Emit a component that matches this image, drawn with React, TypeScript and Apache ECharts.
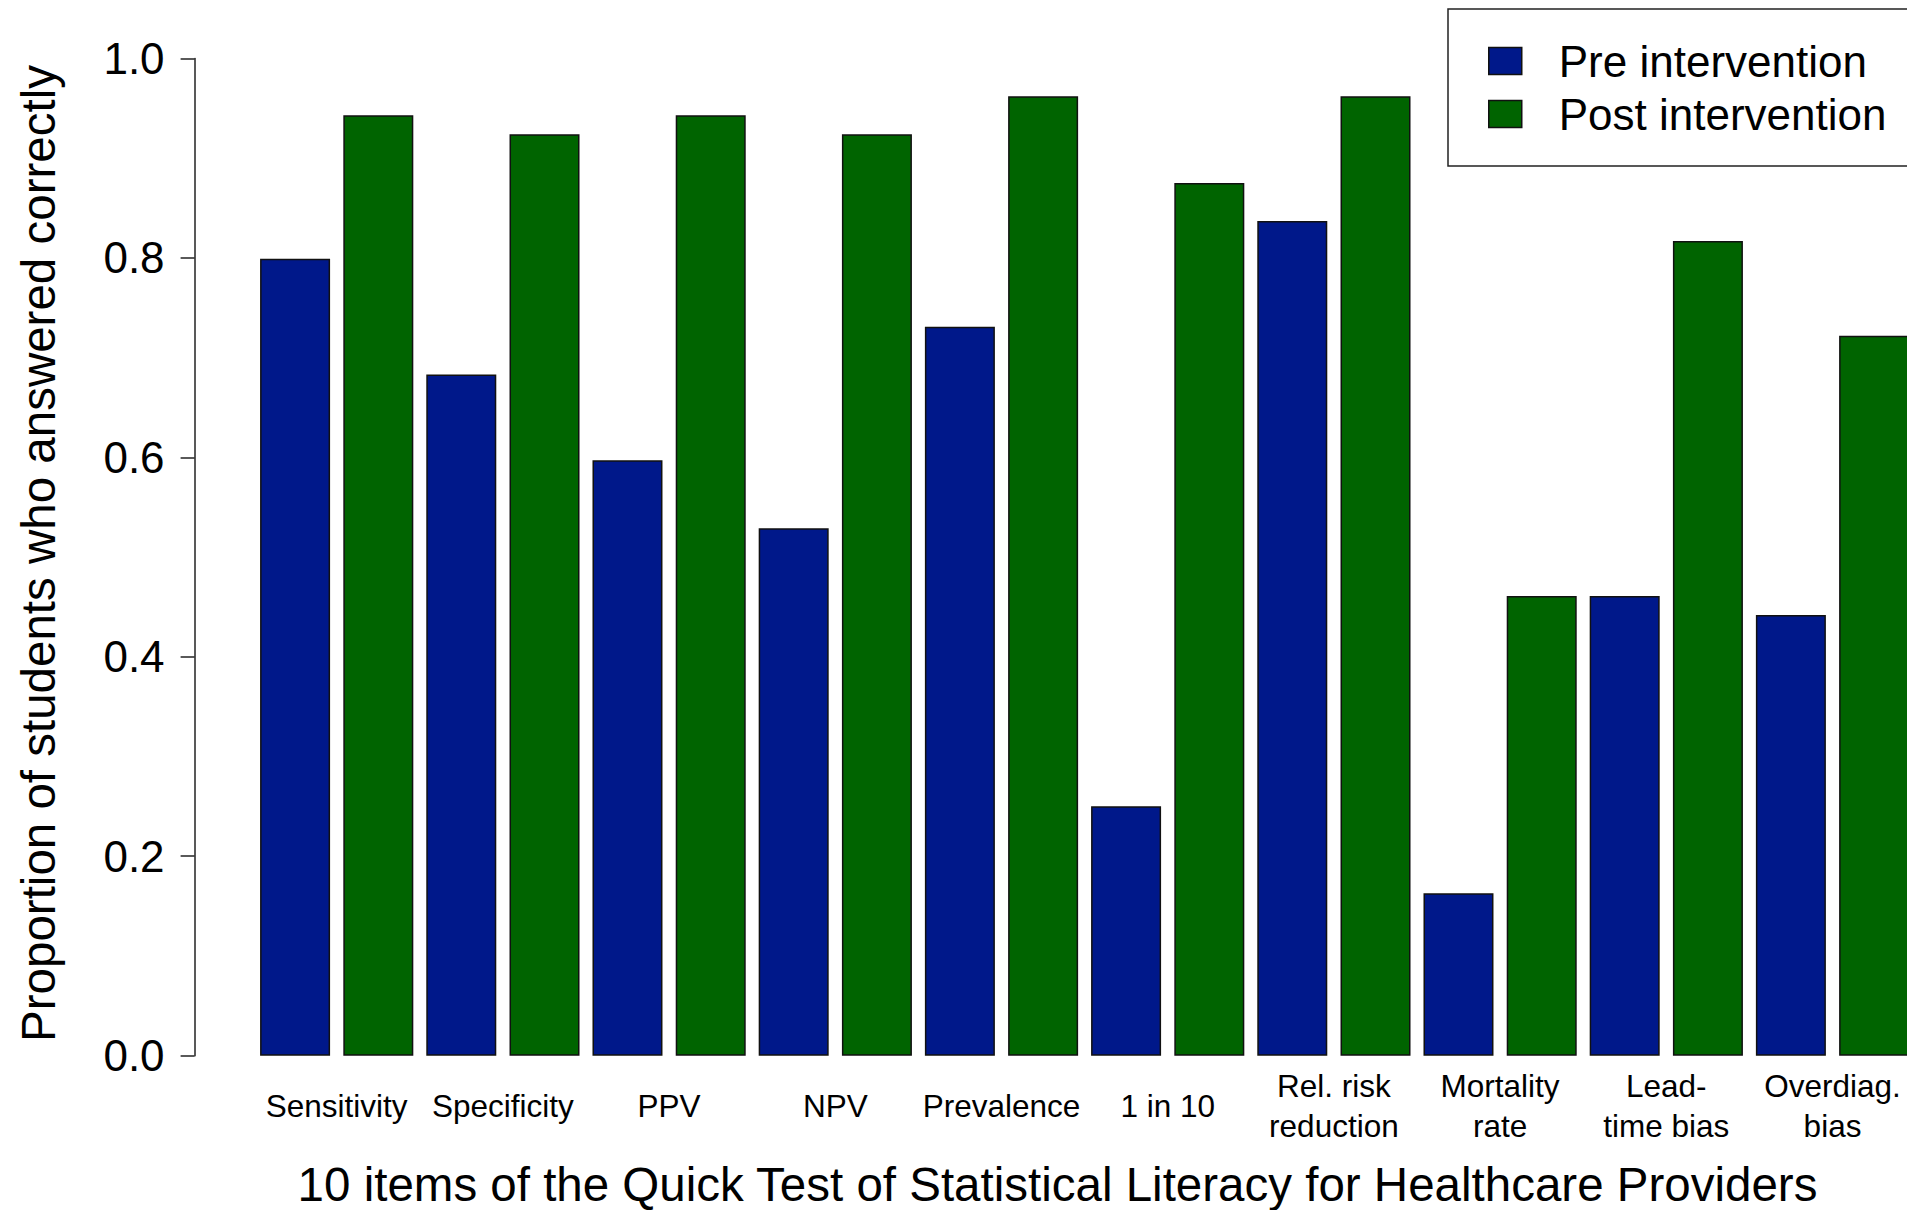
import React, { useEffect, useRef } from "react";
import * as echarts from "echarts";

const categories = [
  "Sensitivity",
  "Specificity",
  "PPV",
  "NPV",
  "Prevalence",
  "1 in 10",
  "Rel. risk\nreduction",
  "Mortality\nrate",
  "Lead-\ntime bias",
  "Overdiag.\nbias",
];
const preIntervention = [0.799, 0.683, 0.597, 0.529, 0.731, 0.25, 0.837, 0.163, 0.461, 0.442];
const postIntervention = [0.943, 0.924, 0.943, 0.924, 0.962, 0.875, 0.962, 0.461, 0.817, 0.722];
const seriesNames = ["Pre intervention", "Post intervention"];
const yTicks = { min: 0, max: 1, interval: 0.2 };
const yTitle = "Proportion of students who answered correctly";
const xTitle = "10 items of the Quick Test of Statistical Literacy for Healthcare Providers";

const FONT = "'Liberation Sans', Arial, Helvetica, sans-serif";
const BLUE = "#00188a";
const GREEN = "#006400";

export default function App() {
  const ref = useRef<HTMLDivElement>(null);
  useEffect(() => {
    if (!ref.current) return;
    const chart = echarts.init(ref.current, undefined, { renderer: "svg" });
    const barStyle = (c: string) => ({ color: c, borderColor: "#111", borderWidth: 1.5 });
    chart.setOption({
      animation: false,
      backgroundColor: "#ffffff",
      textStyle: { fontFamily: FONT },
      grid: { left: 253.6, top: 58.4, width: 1662, height: 997.3, containLabel: false },
      legend: {
        orient: "vertical",
        left: 1448,
        top: 9,
        icon: "rect",
        itemWidth: 33,
        itemHeight: 27,
        itemGap: 9,
        padding: [30, 40, 30, 40],
        borderColor: "#222",
        borderWidth: 1.5,
        data: seriesNames,
        itemStyle: { borderColor: "#111", borderWidth: 1.5 },
        textStyle: {
          fontFamily: FONT,
          fontSize: 44,
          lineHeight: 44,
          color: "#000",
          padding: [0, 0, 0, 32],
        },
      },
      xAxis: {
        type: "category",
        data: categories,
        axisLine: { show: false },
        axisTick: { show: false },
        axisLabel: {
          interval: 0,
          fontFamily: FONT,
          fontSize: 31.5,
          lineHeight: 40,
          color: "#000",
          margin: 50,
          verticalAlign: "middle",
          align: "center",
        },
      },
      yAxis: {
        type: "value",
        min: yTicks.min,
        max: yTicks.max,
        interval: yTicks.interval,
        offset: 59,
        splitLine: { show: false },
        axisLine: { show: true, lineStyle: { color: "#222", width: 1.5 } },
        axisTick: { show: true, length: 14, lineStyle: { color: "#222", width: 1.5 } },
        axisLabel: {
          fontFamily: FONT,
          fontSize: 44,
          color: "#000",
          margin: 30,
          formatter: (v: number) => v.toFixed(1),
        },
      },
      graphic: [
        {
          type: "text",
          x: 38,
          y: 553.5,
          rotation: Math.PI / 2,
          style: {
            text: yTitle,
            fontFamily: FONT,
            fontSize: 47.5,
            fill: "#000",
            align: "center",
            verticalAlign: "middle",
          },
        },
        {
          type: "text",
          x: 1057.5,
          y: 1184,
          style: {
            text: xTitle,
            fontFamily: FONT,
            fontSize: 47.5,
            fill: "#000",
            align: "center",
            verticalAlign: "middle",
          },
        },
      ],
      series: [
        {
          name: seriesNames[0],
          type: "bar",
          data: preIntervention,
          barWidth: 70,
          barGap: "18.9%",
          itemStyle: barStyle(BLUE),
        },
        {
          name: seriesNames[1],
          type: "bar",
          data: postIntervention,
          barWidth: 70,
          barGap: "18.9%",
          itemStyle: barStyle(GREEN),
        },
      ],
    });
    return () => chart.dispose();
  }, []);
  return (
    <div
      style={{
        position: "fixed",
        left: 0,
        top: 0,
        width: 1907,
        height: 1210,
        overflow: "hidden",
        background: "#fff",
      }}
    >
      <div ref={ref} style={{ width: 1930, height: 1210 }} />
    </div>
  );
}
